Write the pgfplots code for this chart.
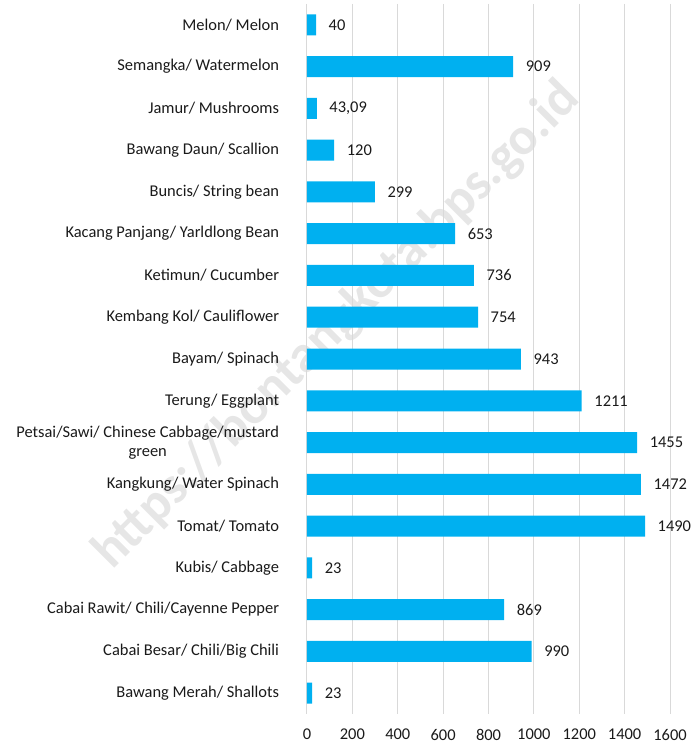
\documentclass[border=0pt]{standalone}
\usepackage{pgfplots}
\pgfplotsset{compat=1.18}
\usepackage{fontspec}
\setmainfont{Carlito}
\definecolor{barblue}{HTML}{00B0F0}
\definecolor{gridgray}{HTML}{D9D9D9}
\definecolor{wm}{HTML}{E6E6E6}
\definecolor{txt}{HTML}{1A1A1A}
\begin{document}
\fontsize{16.5}{19}\selectfont
\begin{tikzpicture}[x=1bp,y=1bp]
\useasboundingbox (-307,-31) rectangle (387,714);
\node[rotate=45, text=wm, font=\fontsize{53}{60}\selectfont\bfseries] at (30,388) {https://bontangkota.bps.go.id};
\begin{axis}[
  at={(0,0)}, anchor=south west,
  scale only axis, width=363bp, height=710bp,
  xbar, bar width=21bp,
  xmin=0, xmax=1600, xtick={0,200,...,1600},
  ymin=-0.5, ymax=16.5, y dir=reverse,
  ytick={0,...,16},
  yticklabels={Melon/ Melon, Semangka/ Watermelon, Jamur/ Mushrooms, Bawang Daun/ Scallion, Buncis/ String bean, Kacang Panjang/ Yarldlong Bean, Ketimun/ Cucumber, Kembang Kol/ Cauliflower, Bayam/ Spinach, Terung/ Eggplant, {Petsai/Sawi/ Chinese Cabbage/mustard\\green}, Kangkung/ Water Spinach, Tomat/ Tomato, Kubis/ Cabbage, Cabai Rawit/ Chili/Cayenne Pepper, Cabai Besar/ Chili/Big Chili, Bawang Merah/ Shallots},
  yticklabel style={align=center, xshift=-18bp, font=\fontsize{16.5}{19}\selectfont, text=txt},
  xticklabel style={font=\fontsize{16.5}{19}\selectfont, text=txt, yshift=-15bp, inner sep=0pt, text depth=0pt},
  /pgf/number format/assume math mode=true,
  /pgf/number format/1000 sep={},
  xmajorgrids, major grid style={gridgray, line width=1bp},
  axis line style={draw=none}, tick style={draw=none},
]
\addplot[fill=barblue, draw=none, nodes near coords, point meta=explicit symbolic,
  nodes near coords style={anchor=west, xshift=7bp, font=\fontsize{16.5}{19}\selectfont, text=txt}]
  table[x=x, y=y, meta=label] {
x y label
40 0 40
909 1 909
43.09 2 {43,09}
120 3 120
299 4 299
653 5 653
736 6 736
754 7 754
943 8 943
1211 9 1211
1455 10 1455
1472 11 1472
1490 12 1490
23 13 23
869 14 869
990 15 990
23 16 23
};
\end{axis}
\end{tikzpicture}
\end{document}
